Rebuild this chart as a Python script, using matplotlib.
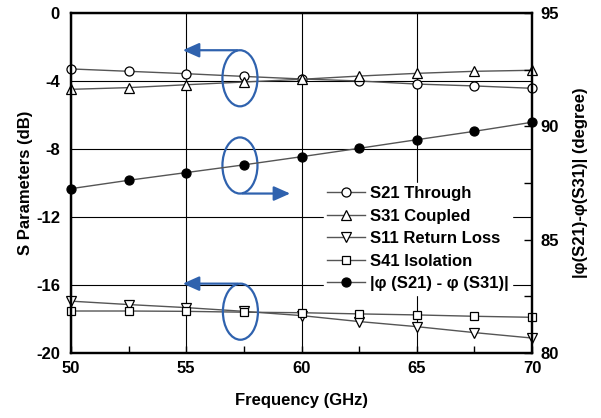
import matplotlib.pyplot as plt
from matplotlib.patches import Ellipse, FancyArrowPatch
from matplotlib.ticker import MultipleLocator

plt.rcParams["font.family"] = ["Liberation Sans", "DejaVu Sans"]
plt.rcParams["font.weight"] = "bold"
plt.rcParams["axes.unicode_minus"] = False

freq = [50, 52.5, 55, 57.5, 60, 62.5, 65, 67.5, 70]
s21 = [-3.29, -3.43, -3.57, -3.73, -3.88, -4.0, -4.18, -4.29, -4.43]
s31 = [-4.49, -4.39, -4.22, -4.06, -3.9, -3.71, -3.55, -3.43, -3.37]
s11 = [-16.95, -17.15, -17.33, -17.55, -17.8, -18.15, -18.45, -18.8, -19.12]
s41 = [-17.53, -17.53, -17.55, -17.6, -17.63, -17.7, -17.76, -17.84, -17.9]
phase = [87.25, 87.62, 87.96, 88.3, 88.66, 89.03, 89.41, 89.78, 90.18]

blue = "#2F62AE"
line_c = "#555555"

fig = plt.figure(figsize=(6.01, 4.18), dpi=100)
ax = fig.add_axes([71 / 601, 1 - 353 / 418, (532 - 71) / 601, (353 - 13) / 418])
ax2 = ax.twinx()

common = dict(color=line_c, lw=1.0, markeredgecolor="black",
              markeredgewidth=0.9, clip_on=False)
h1, = ax.plot(freq, s21, marker="o", markerfacecolor="white", markersize=6.5,
              label="S21 Through", **common)
h2, = ax.plot(freq, s31, marker="^", markerfacecolor="white", markersize=6.5,
              label="S31 Coupled", **common)
h3, = ax.plot(freq, s11, marker="v", markerfacecolor="white", markersize=6.5,
              label="S11 Return Loss", **common)
h4, = ax.plot(freq, s41, marker="s", markerfacecolor="white", markersize=5.5,
              label="S41 Isolation", **common)
h5, = ax2.plot(freq, phase, marker="o", markerfacecolor="black", markersize=6.5,
               label="|\u03c6 (S21) - \u03c6 (S31)|", **common)

ax.set_xlim(50, 70)
ax.set_ylim(-20, 0)
ax2.set_ylim(80, 95)

ax.xaxis.set_major_locator(MultipleLocator(5))
ax.xaxis.set_minor_locator(MultipleLocator(2.5))
ax.yaxis.set_major_locator(MultipleLocator(4))
ax2.yaxis.set_major_locator(MultipleLocator(5))
ax2.yaxis.set_minor_locator(MultipleLocator(2.5))

ax.grid(True, which="major", color="black", lw=0.8)
ax.tick_params(axis="x", which="both", direction="in", length=5, width=1,
               labelsize=12, pad=6)
ax.tick_params(axis="y", which="both", length=0, labelsize=12, pad=8)
ax2.tick_params(axis="y", which="both", direction="in", length=6, width=1,
                labelsize=12, pad=6)

for a in (ax, ax2):
    for sp in a.spines.values():
        sp.set_linewidth(1.6)

ax.set_xlabel("Frequency (GHz)", fontsize=12, fontweight="bold", labelpad=12)
ax.set_ylabel("S Parameters (dB)", fontsize=12, fontweight="bold", labelpad=2)
ax2.set_ylabel("|\u03c6(S21)-\u03c6(S31)| (degree)", fontsize=12, fontweight="bold",
               labelpad=10)

leg = ax2.legend(handles=[h1, h2, h3, h4, h5], loc="upper left",
                 bbox_to_anchor=(0.53, 0.525), fontsize=12, frameon=True,
                 fancybox=False, framealpha=1, edgecolor="white",
                 handlelength=2.3, handletextpad=0.3, labelspacing=0.45,
                 borderpad=0.2)
for t in leg.get_texts():
    t.set_fontweight("bold")

# ellipses with arrows marking which axis each group belongs to
marks = [
    (57.33, -3.84, 54.73, "top"),
    (57.33, -8.97, 59.63, "bottom"),
    (57.35, -17.57, 54.73, "top"),
]
ew, eh = 1.52, 3.3
for cx, cy, ax_end, side in marks:
    ax.add_patch(Ellipse((cx, cy), ew, eh, fill=False, edgecolor=blue, lw=1.6, zorder=6))
    ay = cy + eh / 2 if side == "top" else cy - eh / 2
    arr = FancyArrowPatch((cx, ay), (ax_end, ay), arrowstyle="-|>,head_length=0.9,head_width=0.4",
                          mutation_scale=11, color=blue, lw=1.6, zorder=6)
    ax.add_patch(arr)

fig.savefig("out.png", dpi=100)
